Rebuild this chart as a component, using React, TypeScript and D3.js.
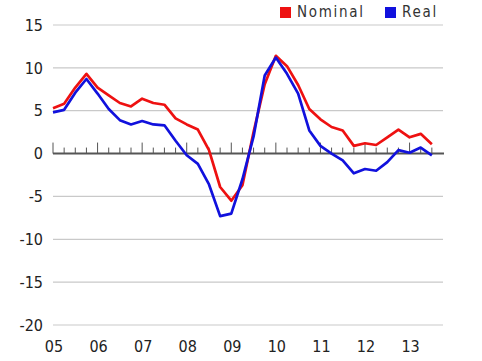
import React from "react";
import * as d3 from "d3";

// quarterly data, 05Q1 .. 13Q3
const quarters = [
  "05Q1", "05Q2", "05Q3", "05Q4", "06Q1", "06Q2", "06Q3", "06Q4",
  "07Q1", "07Q2", "07Q3", "07Q4", "08Q1", "08Q2", "08Q3", "08Q4",
  "09Q1", "09Q2", "09Q3", "09Q4", "10Q1", "10Q2", "10Q3", "10Q4",
  "11Q1", "11Q2", "11Q3", "11Q4", "12Q1", "12Q2", "12Q3", "12Q4",
  "13Q1", "13Q2", "13Q3",
];
const nominal = [
  5.3, 5.8, 7.7, 9.3, 7.7, 6.8, 5.9, 5.5, 6.4, 5.9, 5.7, 4.1, 3.4, 2.8,
  0.4, -3.9, -5.5, -3.7, 2.5, 8.1, 11.4, 10.2, 8.0, 5.2, 4.0, 3.1, 2.7,
  0.9, 1.2, 1.0, 1.9, 2.8, 1.9, 2.3, 1.1,
];
const real = [
  4.8, 5.1, 7.1, 8.7, 7.0, 5.2, 3.9, 3.4, 3.8, 3.4, 3.3, 1.5, -0.2, -1.2,
  -3.6, -7.3, -7.0, -3.0, 2.0, 9.1, 11.2, 9.3, 7.0, 2.7, 0.9, 0.0, -0.8,
  -2.3, -1.8, -2.0, -1.0, 0.4, 0.1, 0.7, -0.2,
];
const yearLabels = ["05", "06", "07", "08", "09", "10", "11", "12", "13"];
const yTicks = [15, 10, 5, 0, -5, -10, -15, -20];

const W = 482;
const H = 361;
const font = "'DejaVu Sans Condensed', 'DejaVu Sans', sans-serif";

export default function App() {
  const x = d3.scaleLinear().domain([0, 35]).range([53, 443]);
  const y = d3.scaleLinear().domain([-20, 15]).range([325, 25]);

  const line = d3
    .line<number>()
    .x((d, i) => x(i))
    .y((d) => y(d));

  return (
    <svg
      width={W}
      height={H}
      style={{ position: "absolute", left: 0, top: 0, background: "#fff" }}
    >
      {/* gridlines */}
      {yTicks
        .filter((t) => t !== 0)
        .map((t) => (
          <line
            key={"g" + t}
            x1={x(0)}
            x2={x(35)}
            y1={y(t)}
            y2={y(t)}
            stroke="#c9c9c9"
            strokeWidth={1.2}
          />
        ))}
      {yTicks.map((t) => (
        <text
          key={"yl" + t}
          x={43}
          y={y(t)}
          dy="0.36em"
          textAnchor="end"
          fontFamily={font}
          fontSize={16}
          fill="#222"
        >
          {t}
        </text>
      ))}

      {/* quarter ticks on the zero line */}
      {quarters.map((q, i) => (
        <line
          key={"t" + q}
          x1={x(i)}
          x2={x(i)}
          y1={y(0)}
          y2={y(0) - (i % 4 === 0 ? 11 : 6)}
          stroke="#555"
          strokeWidth={1}
        />
      ))}
      <line
        x1={x(0)}
        x2={x(35) + 1}
        y1={y(0)}
        y2={y(0)}
        stroke="#555"
        strokeWidth={2}
      />

      {yearLabels.map((l, i) => (
        <text
          key={"x" + l}
          x={x(i * 4) + 1}
          y={352}
          textAnchor="middle"
          fontFamily={font}
          fontSize={16}
          fill="#222"
        >
          {l}
        </text>
      ))}

      <path
        d={line(nominal) || ""}
        fill="none"
        stroke="#ee1111"
        strokeWidth={2.7}
        strokeLinejoin="round"
      />
      <path
        d={line(real) || ""}
        fill="none"
        stroke="#1111dd"
        strokeWidth={2.7}
        strokeLinejoin="round"
      />

      {/* legend */}
      <rect x={280} y={7} width={11} height={11} fill="#ee1111" />
      <text
        x={297}
        y={17}
        fontFamily={font}
        fontSize={15}
        letterSpacing={1.7}
        fill="#333"
      >
        Nominal
      </text>
      <rect x={385} y={7} width={11} height={11} fill="#1111dd" />
      <text
        x={402}
        y={17}
        fontFamily={font}
        fontSize={15}
        letterSpacing={1.7}
        fill="#333"
      >
        Real
      </text>
    </svg>
  );
}
